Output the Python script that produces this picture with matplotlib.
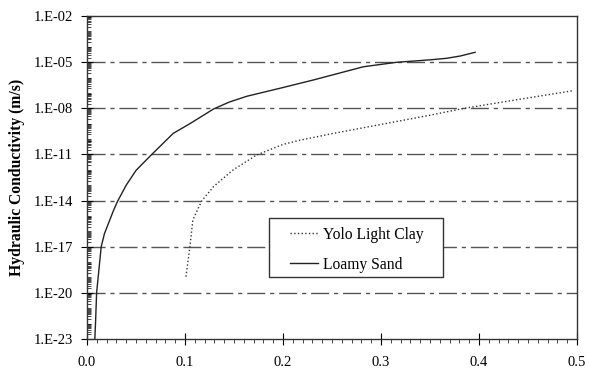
import numpy as np
import matplotlib
matplotlib.use("Agg")
import matplotlib.pyplot as plt
from matplotlib.patches import Rectangle
from matplotlib.ticker import LogLocator, FixedLocator, MultipleLocator, FuncFormatter, NullFormatter

# Значення (вологість, lg K)
sand_theta = [0.008, 0.0088, 0.0098, 0.0145, 0.0178, 0.027, 0.031, 0.040, 0.050, 0.065,
              0.088, 0.105, 0.129, 0.145, 0.163, 0.200, 0.231, 0.282, 0.316, 0.350,
              0.367, 0.381, 0.396]
sand_logk = [-23.0, -21.8, -20.0, -17.0, -16.15, -14.65, -14.07, -13.0, -12.04, -11.07,
             -9.63, -9.0, -8.05, -7.6, -7.22, -6.65, -6.16, -5.30, -5.01, -4.85,
             -4.75, -4.60, -4.36]

clay_theta = [0.101, 0.105, 0.108, 0.117, 0.129, 0.149, 0.173, 0.200, 0.217, 0.250,
              0.300, 0.350, 0.385, 0.440, 0.4956]
clay_logk = [-18.95, -17.0, -15.26, -14.03, -13.1, -12.01, -11.04, -10.35, -10.08, -9.65,
             -9.05, -8.45, -8.0, -7.43, -6.86]

y_ticks = [1e-23, 1e-20, 1e-17, 1e-14, 1e-11, 1e-8, 1e-5, 1e-2]
x_ticks = [0.0, 0.1, 0.2, 0.3, 0.4, 0.5]

plt.rcParams['font.family'] = ['Liberation Serif', 'DejaVu Serif']


def exp_label(v, pos):
    e = int(round(np.log10(v)))
    return "1.E-%02d" % -e if e < 0 else "1.E+%02d" % e


fig = plt.figure(figsize=(5.89, 3.69), dpi=100)
ax = fig.add_axes([87 / 589, 1 - 339 / 369, 490 / 589, 323 / 369])

ax.set_yscale('log')
ax.plot(clay_theta, 10.0 ** np.array(clay_logk), linestyle=':', color='#333333', lw=1.0,
        label='Yolo Light Clay')
ax.plot(sand_theta, 10.0 ** np.array(sand_logk), linestyle='-', color='#222222', lw=1.0,
        label='Loamy Sand')

ax.set_xlim(0, 0.5)
ax.set_ylim(1e-23, 1e-2)

ax.yaxis.set_major_locator(FixedLocator(y_ticks))
ax.yaxis.set_minor_locator(LogLocator(base=10, subs=np.arange(1, 10), numticks=100))
ax.yaxis.set_major_formatter(FuncFormatter(exp_label))
ax.yaxis.set_minor_formatter(NullFormatter())
ax.xaxis.set_major_locator(FixedLocator(x_ticks))
ax.xaxis.set_minor_locator(MultipleLocator(0.01))
ax.xaxis.set_major_formatter(FuncFormatter(lambda v, p: "%.1f" % v))

ax.tick_params(axis='y', which='major', direction='inout', length=8, width=0.8, labelsize=10.5, pad=6)
ax.tick_params(axis='y', which='minor', direction='in', length=3, width=0.5)
ax.tick_params(axis='x', which='major', direction='inout', length=8, width=0.8, labelsize=10.5, pad=8)
ax.tick_params(axis='x', which='minor', direction='out', length=3, width=0.5)

for v in y_ticks[1:-1]:
    ax.axhline(v, color='#555555', lw=1.0, dashes=(13, 3.5, 3, 3.5), zorder=0)

for s in ax.spines.values():
    s.set_linewidth(1.0)
    s.set_color('#333333')

ax.set_ylabel('Hydraulic Conductivity (m/s)', fontsize=11.25, fontweight='bold', labelpad=6)

# рамка легенди окремо, щоб відтворити відступи оригіналу
ax.add_patch(Rectangle((0.3714, 0.192), 0.355, 0.183, transform=ax.transAxes,
                       facecolor='white', edgecolor='#333333', lw=1.0, zorder=4))
leg = ax.legend(loc='upper left', bbox_to_anchor=(0.414, 0.348), fontsize=11.25, frameon=False,
                borderpad=0, handlelength=1.8, handletextpad=0.3, labelspacing=0.9,
                borderaxespad=0)
leg.set_zorder(5)

fig.savefig('out.png', dpi=100)
